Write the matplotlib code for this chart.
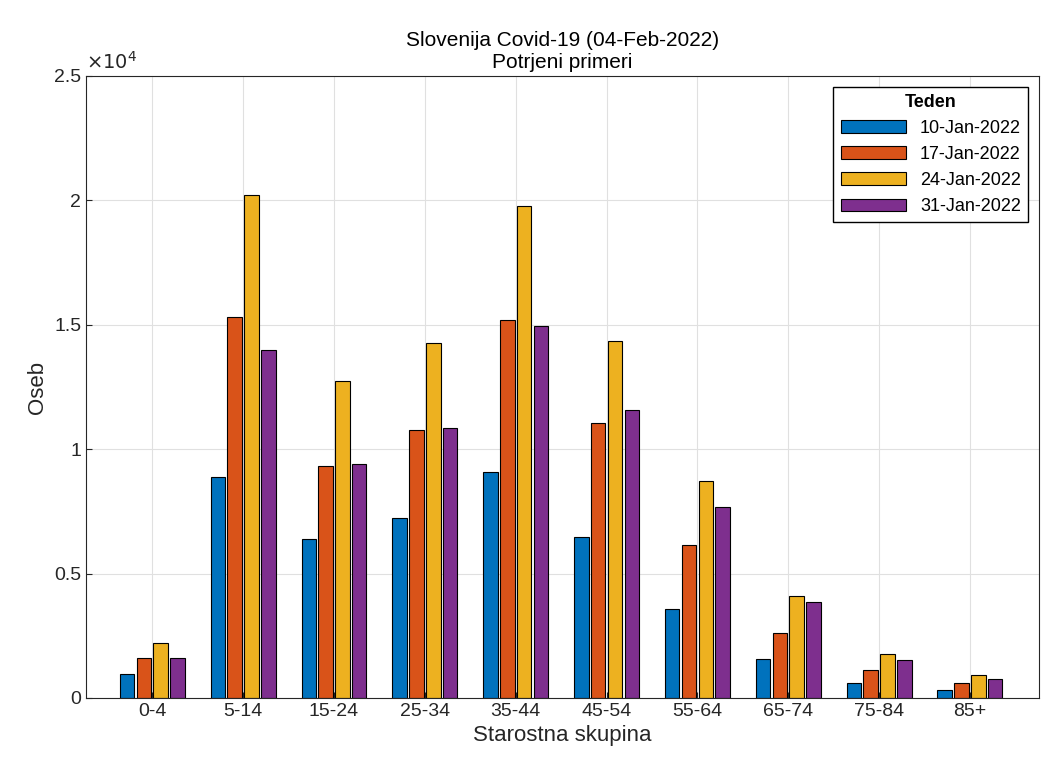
import matplotlib.pyplot as plt
import numpy as np

plt.rcParams["font.family"] = ["Liberation Sans", "DejaVu Sans"]

groups = ["0-4", "5-14", "15-24", "25-34", "35-44", "45-54", "55-64", "65-74", "75-84", "85+"]
weeks = ["10-Jan-2022", "17-Jan-2022", "24-Jan-2022", "31-Jan-2022"]
w10 = [980, 8890, 6390, 7240, 9080, 6470, 3570, 1570, 600, 320]
w17 = [1610, 15330, 9340, 10760, 15180, 11040, 6140, 2610, 1120, 600]
w24 = [2200, 20200, 12730, 14250, 19760, 14340, 8710, 4100, 1770, 920]
w31 = [1610, 13980, 9420, 10860, 14940, 11570, 7670, 3860, 1530, 760]
colors = ["#0072BD", "#D95319", "#EDB120", "#7E2F8E"]

fig = plt.figure(figsize=(10.41, 7.69), dpi=100)
ax = fig.add_axes([86/1041, 1 - 698/769, 953/1041, 622/769])
x = np.arange(1, len(groups) + 1)
for k, (vals, c, lab) in enumerate(zip([w10, w17, w24, w31], colors, weeks)):
    ax.bar(x + (k - 1.5) * 0.185, vals, width=0.16, color=c, edgecolor="black",
           linewidth=0.8, label=lab, zorder=2)

ax.set_xlim(0.27, 10.76)
ax.set_ylim(0, 25000)
ax.set_xticks(x)
ax.set_xticklabels(groups)
ax.set_yticks([0, 5000, 10000, 15000, 20000, 25000])
ax.set_yticklabels(["0", "0.5", "1", "1.5", "2", "2.5"])
ax.text(0, 1.005, r"$\times10^4$", transform=ax.transAxes, fontsize=14, color="#262626", va="bottom")
ax.grid(True, color="#e0e0e0", linewidth=0.8, zorder=0)
ax.tick_params(labelsize=14, colors="#262626", direction="in", length=4)
for s in ax.spines.values():
    s.set_color("#262626")
ax.set_xlabel("Starostna skupina", fontsize=16, color="#262626")
ax.set_ylabel("Oseb", fontsize=16, color="#262626")
ax.set_title("Slovenija Covid-19 (04-Feb-2022)\nPotrjeni primeri", fontsize=15, color="#000000")
leg = ax.legend(title="Teden", loc="upper right", fontsize=13, title_fontproperties={"weight": "bold", "size": 13},
                fancybox=False, edgecolor="black", framealpha=1, borderaxespad=0.6, handlelength=3.6)
fig.savefig("out.png", dpi=100)
